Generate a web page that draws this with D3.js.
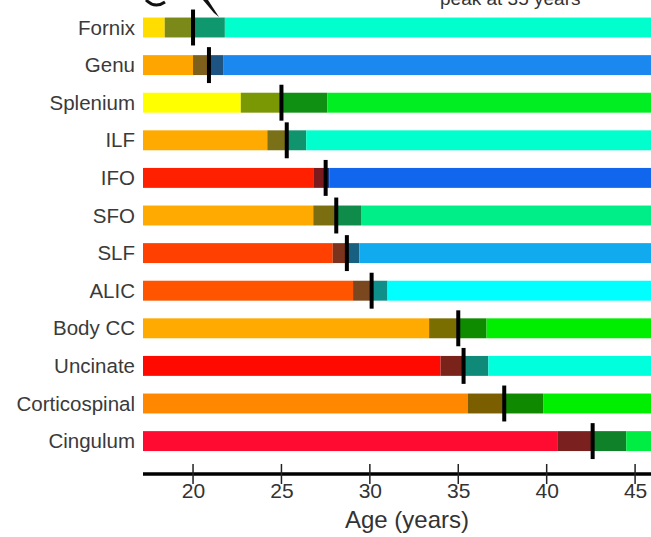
<!DOCTYPE html>
<html>
<head>
<meta charset="utf-8">
<script src="https://cdnjs.cloudflare.com/ajax/libs/d3/7.8.5/d3.min.js"></script>
<style>
  body { margin: 0; background: #fff; }
  svg { display: block; }
  text { font-family: "Liberation Sans", Arial, sans-serif; }
</style>
</head>
<body>
<div id="chart"></div>
<script>
// tracts, top to bottom
var tracts = ["Fornix", "Genu", "Splenium", "ILF", "IFO", "SFO", "SLF", "ALIC",
              "Body CC", "Uncinate", "Corticospinal", "Cingulum"];

// age (years) where the early colour ends, peak age, and where the late colour begins
var earlyEnd = [18.4, 20.0, 22.7, 24.2, 26.8, 26.8, 27.9, 29.05, 33.35, 34.0, 35.55, 40.6];
var peakAge  = [20.0, 20.9, 25.0, 25.3, 27.5, 28.1, 28.7, 30.1, 35.0, 35.3, 37.6, 42.6];
var lateStart = [21.8, 21.7, 27.6, 26.4, 27.7, 29.5, 29.4, 31.0, 36.6, 36.7, 39.8, 44.5];

var ageTicks = [20, 25, 30, 35, 40, 45];

// colour of the early and late part of each bar
var earlyColor = ["#ffdd00", "#ffa500", "#ffff00", "#ffaa00", "#ff2000", "#ffaa00",
                  "#ff4000", "#ff5500", "#ffaa00", "#ff0a00", "#ff8800", "#ff0a30"];
var lateColor  = ["#00ffcc", "#1a88ee", "#00ee22", "#00ffcc", "#1166ee", "#00ee88",
                  "#11aaee", "#00ffff", "#00ee00", "#00ffdd", "#00ee00", "#00ee44"];

var width = 651, height = 537;

var svg = d3.select("#chart").append("svg")
    .attr("width", width)
    .attr("height", height);

var x = d3.scaleLinear()
    .domain([17.17, 45.9])
    .range([143, 651]);

var y = d3.scaleBand()
    .domain(tracts)
    .range([8.7, 459.9])
    .paddingInner(0.47)
    .paddingOuter(0.235);

var rows = tracts.map(function (t, i) {
    return {name: t, a: earlyEnd[i], p: peakAge[i], b: lateStart[i],
            c1: earlyColor[i], c2: lateColor[i]};
});

var dark = function (c) {
    return d3.interpolateRgb(c, "#000")(0.4);
};

var g = svg.selectAll("g.row")
    .data(rows)
    .enter()
    .append("g")
        .attr("class", "row")
        .attr("transform", function (d) { return "translate(0," + y(d.name) + ")"; });

var bh = y.bandwidth();

// four segments per bar
g.append("rect")
    .attr("x", x(x.domain()[0]))
    .attr("width", function (d) { return x(d.a) - x(x.domain()[0]); })
    .attr("height", bh)
    .attr("fill", function (d) { return d.c1; });

g.append("rect")
    .attr("x", function (d) { return x(d.a); })
    .attr("width", function (d) { return x(d.p) - x(d.a); })
    .attr("height", bh)
    .attr("fill", function (d) { return d3.interpolateRgb(dark(d.c1), dark(d.c2))(0.2); });

g.append("rect")
    .attr("x", function (d) { return x(d.p); })
    .attr("width", function (d) { return x(d.b) - x(d.p); })
    .attr("height", bh)
    .attr("fill", function (d) { return d3.interpolateRgb(dark(d.c2), dark(d.c1))(0.1); });

g.append("rect")
    .attr("x", function (d) { return x(d.b); })
    .attr("width", function (d) { return x(x.domain()[1]) - x(d.b); })
    .attr("height", bh)
    .attr("fill", function (d) { return d.c2; });

// peak marker
g.append("rect")
    .attr("x", function (d) { return x(d.p) - 2; })
    .attr("y", -8)
    .attr("width", 4)
    .attr("height", bh + 16)
    .attr("fill", "#000");

// tract names
g.append("text")
    .attr("x", 135)
    .attr("y", bh / 2)
    .attr("dy", "0.35em")
    .attr("text-anchor", "end")
    .attr("font-size", 20.5)
    .attr("fill", "#3a3a3a")
    .text(function (d) { return d.name; });

// x axis
var axisY = 474;
var xAxis = d3.axisBottom(x)
    .tickValues(ageTicks)
    .tickSize(0)
    .tickPadding(9);

var ax = svg.append("g")
    .attr("transform", "translate(0," + axisY + ")")
    .call(xAxis);
ax.select(".domain").remove();
ax.selectAll("text")
    .attr("font-size", 21)
    .attr("font-family", "\"Liberation Sans\", Arial, sans-serif")
    .attr("fill", "#333");

ax.append("line")
    .attr("x1", 143).attr("x2", 651)
    .attr("stroke", "#000").attr("stroke-width", 3.5);

ax.selectAll(".tickmark")
    .data(ageTicks)
    .enter()
    .append("line")
        .attr("x1", function (d) { return x(d); })
        .attr("x2", function (d) { return x(d); })
        .attr("y1", -10).attr("y2", 10)
        .attr("stroke", "#222").attr("stroke-width", 1.5);

svg.append("text")
    .attr("x", x(32.1))
    .attr("y", 528)
    .attr("text-anchor", "middle")
    .attr("font-size", 24)
    .attr("fill", "#333")
    .text("Age (years)");

// cut-off annotation at the very top
svg.append("text")
    .attr("x", 440)
    .attr("y", 5)
    .attr("font-size", 19)
    .attr("fill", "#333")
    .text("peak at 35 years");

svg.append("path")
    .attr("d", "M146,0 Q155,9 165,2")
    .attr("fill", "none").attr("stroke", "#111").attr("stroke-width", 3);

svg.append("path")
    .attr("d", "M203,0 L208,0 L219,17 L214,13 Z")
    .attr("fill", "#111");
</script>
</body>
</html>
